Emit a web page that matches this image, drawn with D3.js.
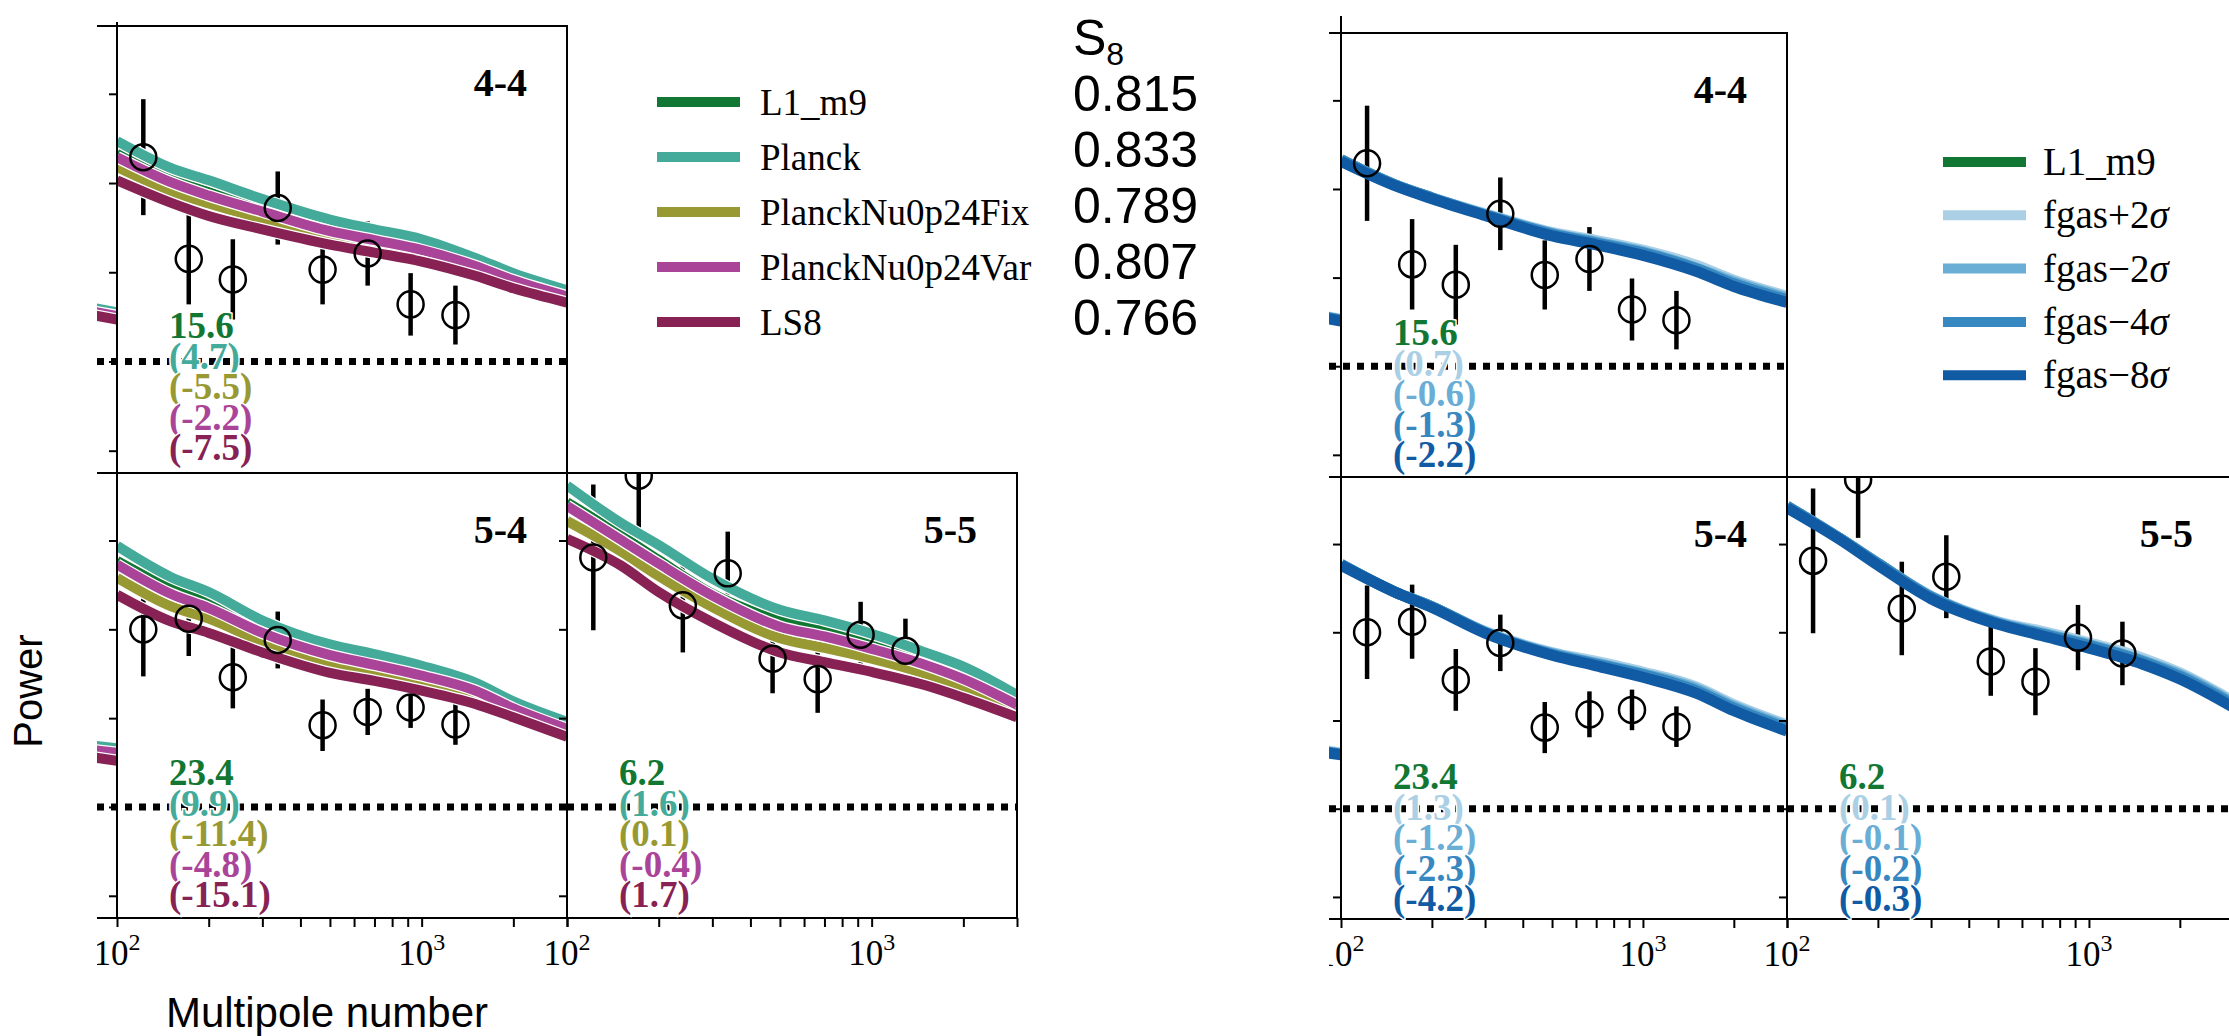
<!DOCTYPE html>
<html>
<head>
<meta charset="utf-8">
<script src="https://cdn.jsdelivr.net/npm/d3@7"></script>
<style>
  body { margin: 0; background: #fff; }
  svg { display: block; }
</style>
</head>
<body>
<svg id="chart"></svg>
<script>
const W = 2229, H = 1036;

// ---------- data ----------
const panelNames = ['4-4', '5-4', '5-5'];
const ellGrid = [100, 150, 200, 300, 500, 700, 1000, 1500, 2000, 3000];
const tailEll = [2500, 3000];
const dataEll = [122, 172, 240, 337, 473, 665, 920, 1291];

// measured band powers (arbitrary units, one row per panel)
const dataPower = [
  [3.29, 2.15, 1.92, 2.72, 2.03, 2.21, 1.64, 1.52],
  [3.00, 3.12, 2.46, 2.88, 1.92, 2.07, 2.12, 1.93],
  [3.81, 4.73, 3.27, 3.63, 2.67, 2.44, 2.94, 2.76],
];
const dataErr = [
  [0.65, 0.51, 0.45, 0.41, 0.39, 0.36, 0.35, 0.33],
  [0.53, 0.42, 0.35, 0.32, 0.29, 0.26, 0.23, 0.23],
  [0.82, 0.66, 0.53, 0.47, 0.39, 0.38, 0.37, 0.36],
];

// model curves on ellGrid, one row per panel
const curveL1 = [
  [3.33, 3.05, 2.90, 2.71, 2.49, 2.39, 2.27, 2.09, 1.92, 1.74],
  [3.77, 3.46, 3.29, 3.00, 2.75, 2.64, 2.51, 2.33, 2.13, 1.90],
  [4.43, 4.06, 3.78, 3.40, 3.10, 2.98, 2.84, 2.66, 2.49, 2.17],
];
const curvePlanck = [
  [3.47, 3.17, 3.03, 2.82, 2.59, 2.48, 2.37, 2.16, 1.99, 1.80],
  [3.94, 3.59, 3.42, 3.10, 2.83, 2.72, 2.59, 2.40, 2.19, 1.96],
  [4.62, 4.20, 3.95, 3.57, 3.22, 3.10, 2.95, 2.74, 2.58, 2.26],
];
const curveFix = [
  [3.18, 2.91, 2.77, 2.60, 2.41, 2.31, 2.21, 2.03, 1.88, 1.71],
  [3.58, 3.26, 3.12, 2.86, 2.62, 2.52, 2.41, 2.24, 2.07, 1.85],
  [4.22, 3.88, 3.60, 3.25, 2.90, 2.79, 2.67, 2.50, 2.35, 2.10],
];
const curveVar = [
  [3.29, 3.01, 2.86, 2.68, 2.46, 2.36, 2.25, 2.07, 1.91, 1.73],
  [3.73, 3.40, 3.24, 2.96, 2.71, 2.60, 2.48, 2.31, 2.11, 1.88],
  [4.39, 4.01, 3.74, 3.38, 3.03, 2.92, 2.78, 2.60, 2.44, 2.15],
];
const curveLS8 = [
  [3.03, 2.78, 2.63, 2.48, 2.31, 2.22, 2.12, 1.96, 1.82, 1.66],
  [3.39, 3.09, 2.96, 2.74, 2.51, 2.42, 2.31, 2.16, 2.01, 1.79],
  [4.02, 3.72, 3.42, 3.08, 2.74, 2.63, 2.52, 2.37, 2.23, 2.01],
];
const curveFgasP2 = [
  [3.33, 3.05, 2.90, 2.72, 2.51, 2.42, 2.31, 2.14, 1.97, 1.79],
  [3.77, 3.46, 3.29, 3.01, 2.77, 2.67, 2.55, 2.38, 2.18, 1.95],
  [4.43, 4.06, 3.78, 3.41, 3.12, 3.01, 2.88, 2.71, 2.54, 2.22],
];
const curveFgasM2 = [
  [3.33, 3.05, 2.90, 2.71, 2.50, 2.40, 2.29, 2.11, 1.95, 1.77],
  [3.77, 3.46, 3.29, 3.00, 2.76, 2.65, 2.53, 2.36, 2.16, 1.93],
  [4.43, 4.06, 3.78, 3.40, 3.11, 2.99, 2.86, 2.68, 2.52, 2.20],
];
const curveFgasM4 = [
  [3.33, 3.05, 2.90, 2.71, 2.49, 2.39, 2.28, 2.10, 1.93, 1.75],
  [3.77, 3.46, 3.29, 3.00, 2.75, 2.64, 2.52, 2.34, 2.14, 1.91],
  [4.43, 4.06, 3.78, 3.40, 3.10, 2.98, 2.85, 2.67, 2.50, 2.18],
];
const curveFgasM8 = [
  [3.31, 3.04, 2.89, 2.70, 2.47, 2.37, 2.25, 2.07, 1.90, 1.72],
  [3.76, 3.46, 3.28, 2.99, 2.74, 2.62, 2.49, 2.31, 2.11, 1.88],
  [4.41, 4.05, 3.76, 3.38, 3.09, 2.96, 2.82, 2.64, 2.47, 2.15],
];

// ends of the curves of the cropped neighbour column (rows 4 and 5)
const tailL1 = [[1.57, 1.52], [1.66, 1.62]];
const tailPlanck = [[1.60, 1.55], [1.69, 1.66]];
const tailFix = [[1.54, 1.49], [1.61, 1.58]];
const tailVar = [[1.56, 1.51], [1.64, 1.61]];
const tailLS8 = [[1.52, 1.47], [1.56, 1.52]];
const tailFgasP2 = [[1.58, 1.53], [1.67, 1.63]];
const tailFgasM2 = [[1.57, 1.52], [1.66, 1.62]];
const tailFgasM4 = [[1.57, 1.52], [1.66, 1.62]];
const tailFgasM8 = [[1.56, 1.51], [1.65, 1.61]];

// chi-square of L1_m9 and differences for the other models
const chiL1 = [15.6, 23.4, 6.2];
const dchiPlanck = [4.7, 9.9, 1.6];
const dchiFix = [-5.5, -11.4, 0.1];
const dchiVar = [-2.2, -4.8, -0.4];
const dchiLS8 = [-7.5, -15.1, 1.7];
const dchiFgasP2 = [0.7, 1.3, 0.1];
const dchiFgasM2 = [-0.6, -1.2, -0.1];
const dchiFgasM4 = [-1.3, -2.3, -0.2];
const dchiFgasM8 = [-2.2, -4.2, -0.3];

const s8Values = [0.815, 0.833, 0.789, 0.807, 0.766];
const xTickValues = [100, 200, 300, 400, 500, 600, 700, 800, 900, 1000, 2000, 3000];
const xLabelValues = [100, 1000];
const yTickValues = [0, 1, 2, 3, 4];

// ---------- layout ----------
const xDomain = [100, 3000];
const yDomain = [-0.25, 4.76];
const panelGrid = [[0, 0], [0, 1], [1, 1]];
const serif = "'Liberation Serif', 'Times New Roman', serif";
const sans = "'Liberation Sans', Arial, sans-serif";

const leftSeries = [
  { name: 'L1_m9', color: '#117733', curve: curveL1, tail: tailL1, dchi: null },
  { name: 'Planck', color: '#44aa99', curve: curvePlanck, tail: tailPlanck, dchi: dchiPlanck },
  { name: 'PlanckNu0p24Fix', color: '#999933', curve: curveFix, tail: tailFix, dchi: dchiFix },
  { name: 'PlanckNu0p24Var', color: '#aa4499', curve: curveVar, tail: tailVar, dchi: dchiVar },
  { name: 'LS8', color: '#882255', curve: curveLS8, tail: tailLS8, dchi: dchiLS8 },
];
const rightSeries = [
  { name: 'L1_m9', color: '#117733', curve: curveL1, tail: tailL1, dchi: null },
  { name: 'fgas+2σ', color: '#abd0e6', curve: curveFgasP2, tail: tailFgasP2, dchi: dchiFgasP2 },
  { name: 'fgas−2σ', color: '#6aaed6', curve: curveFgasM2, tail: tailFgasM2, dchi: dchiFgasM2 },
  { name: 'fgas−4σ', color: '#3787c0', curve: curveFgasM4, tail: tailFgasM4, dchi: dchiFgasM4 },
  { name: 'fgas−8σ', color: '#105ba4', curve: curveFgasM8, tail: tailFgasM8, dchi: dchiFgasM8 },
];

const figLeft = { id: 'L', x0: 117, y0: 26, pw: 450, rowH: [447, 445], cropX: 97, cropY: 0, cropR: 1329, spineTop: 22, halo: true, width: 10 };
const figRight = { id: 'R', x0: 1341, y0: 33, pw: 446, rowH: [444, 442], cropX: 1329, cropY: 16, cropR: W, spineTop: 16, halo: false, width: 11 };

const svg = d3.select('#chart').attr('width', W).attr('height', H);
const defs = svg.append('defs');
svg.append('rect').attr('width', W).attr('height', H).attr('fill', '#fff');

function drawFigure(fig, series) {
  defs.append('clipPath').attr('id', 'crop' + fig.id)
    .append('rect')
    .attr('x', fig.cropX).attr('y', fig.cropY)
    .attr('width', fig.cropR - fig.cropX).attr('height', H - fig.cropY);
  const g = svg.append('g').attr('clip-path', `url(#crop${fig.id})`);

  panelNames.forEach((name, i) => {
    const [c, r] = panelGrid[i];
    const px = fig.x0 + c * fig.pw;
    const py = fig.y0 + (r === 0 ? 0 : fig.rowH[0]);
    const ph = fig.rowH[r];
    const x = d3.scaleLog().domain(xDomain).range([px, px + fig.pw]);
    const y = d3.scaleLinear().domain(yDomain).range([py + ph, py]);

    const clipId = `clip${fig.id}${i}`;
    defs.append('clipPath').attr('id', clipId)
      .append('rect').attr('x', px).attr('y', py).attr('width', fig.pw).attr('height', ph);

    const drawCurves = (target, xs, ells, pick) => {
      const line = d3.line()
        .x((d) => xs(d[0]))
        .y((d) => y(d[1]))
        .curve(d3.curveMonotoneX);
      series.forEach((s) => {
        const pts = ells.map((e, k) => [e, pick(s)[k]]);
        if (fig.halo) {
          target.append('path').attr('d', line(pts)).attr('fill', 'none')
            .attr('stroke', '#fff').attr('stroke-width', fig.width + 2.5);
        }
        target.append('path').attr('d', line(pts)).attr('fill', 'none')
          .attr('stroke', s.color).attr('stroke-width', fig.width);
      });
    };

    // cropped neighbour panel on the left: only its curve ends show
    if (c === 0) {
      const tid = `tail${fig.id}${i}`;
      defs.append('clipPath').attr('id', tid)
        .append('rect').attr('x', px - fig.pw).attr('y', py).attr('width', fig.pw).attr('height', ph);
      const xn = d3.scaleLog().domain(xDomain).range([px - fig.pw, px]);
      drawCurves(g.append('g').attr('clip-path', `url(#${tid})`), xn, tailEll, (s) => s.tail[r]);
    }

    // dotted reference line
    g.append('line')
      .attr('x1', c === 0 ? fig.cropX : px).attr('x2', px + fig.pw)
      .attr('y1', y(1)).attr('y2', y(1))
      .attr('stroke', '#000').attr('stroke-width', 7).attr('stroke-dasharray', '7,7');

    const body = g.append('g').attr('clip-path', `url(#${clipId})`);

    // error bars
    body.selectAll('line.err').data(dataEll).join('line')
      .attr('class', 'err')
      .attr('x1', (d) => x(d)).attr('x2', (d) => x(d))
      .attr('y1', (d, k) => y(dataPower[i][k] - dataErr[i][k]))
      .attr('y2', (d, k) => y(dataPower[i][k] + dataErr[i][k]))
      .attr('stroke', '#000').attr('stroke-width', 4.5);

    // model curves
    drawCurves(body, x, ellGrid, (s) => s.curve[i]);

    // data circles
    body.selectAll('circle').data(dataEll).join('circle')
      .attr('cx', (d) => x(d))
      .attr('cy', (d, k) => y(dataPower[i][k]))
      .attr('r', 13)
      .attr('fill', 'none').attr('stroke', '#000').attr('stroke-width', 2.5);

    // frame
    g.append('rect').attr('x', px).attr('y', py).attr('width', fig.pw).attr('height', ph)
      .attr('fill', 'none').attr('stroke', '#000').attr('stroke-width', 2);
    if (c === 0) {
      g.append('line').attr('x1', fig.cropX).attr('x2', px).attr('y1', py).attr('y2', py)
        .attr('stroke', '#000').attr('stroke-width', 2);
      g.append('line').attr('x1', fig.cropX).attr('x2', px).attr('y1', py + ph).attr('y2', py + ph)
        .attr('stroke', '#000').attr('stroke-width', 2);
      if (r === 0) {
        g.append('line').attr('x1', px).attr('x2', px).attr('y1', fig.spineTop).attr('y2', py)
          .attr('stroke', '#000').attr('stroke-width', 2);
      }
    }

    // y ticks
    const gy = g.append('g').attr('transform', `translate(${px},0)`)
      .call(d3.axisLeft(y).tickValues(yTickValues).tickSize(8).tickFormat(''));
    gy.select('.domain').remove();
    gy.selectAll('.tick line').attr('stroke-width', 2);

    // x ticks on the bottom row
    if (r === 1) {
      const gx = g.append('g').attr('transform', `translate(0,${py + ph})`)
        .call(d3.axisBottom(x).tickValues(xTickValues).tickSize(9).tickFormat(''));
      gx.select('.domain').remove();
      gx.selectAll('.tick line').attr('stroke-width', 2);
      xLabelValues.forEach((v) => {
        const t = g.append('text')
          .attr('x', x(v)).attr('y', py + ph + 47)
          .attr('text-anchor', 'middle')
          .attr('font-family', serif).attr('font-size', 35);
        t.append('tspan').text('10');
        t.append('tspan').attr('dy', -15).attr('font-size', 24).text(Math.round(Math.log10(v)));
      });
    }

    // panel name
    g.append('text')
      .attr('x', px + fig.pw - 40).attr('y', py + 70)
      .attr('text-anchor', 'end')
      .attr('font-family', serif).attr('font-weight', 'bold').attr('font-size', 40)
      .text(name);

    // chi-square block
    const chiLines = series.map((s) => (s.dchi === null
      ? { text: chiL1[i].toFixed(1), color: s.color }
      : { text: '(' + s.dchi[i].toFixed(1) + ')', color: s.color }));
    g.append('g').selectAll('text').data(chiLines).join('text')
      .attr('x', px + 52)
      .attr('y', (d, k) => py + 312 + k * 30.5)
      .attr('font-family', serif).attr('font-weight', 'bold').attr('font-size', 37)
      .attr('fill', (d) => d.color)
      .attr('stroke', '#fff').attr('stroke-width', 3).attr('paint-order', 'stroke')
      .text((d) => d.text);
  });
}

drawFigure(figLeft, leftSeries);
drawFigure(figRight, rightSeries);

// axis labels (left figure)
svg.append('text')
  .attr('transform', 'translate(42,691) rotate(-90)')
  .attr('text-anchor', 'middle')
  .attr('font-family', sans).attr('font-size', 40)
  .text('Power');
svg.append('text')
  .attr('x', 327).attr('y', 1027)
  .attr('text-anchor', 'middle')
  .attr('font-family', sans).attr('font-size', 42)
  .text('Multipole number');

// left legend with S8 column
const legL = svg.append('g');
leftSeries.forEach((s, k) => {
  const ly = 102 + k * 55;
  legL.append('line').attr('x1', 657).attr('x2', 740).attr('y1', ly).attr('y2', ly)
    .attr('stroke', s.color).attr('stroke-width', 10);
  legL.append('text').attr('x', 760).attr('y', ly + 13)
    .attr('font-family', serif).attr('font-size', 37)
    .text(s.name);
});
const s8Title = legL.append('text').attr('x', 1073).attr('y', 55)
  .attr('font-family', sans).attr('font-size', 50);
s8Title.append('tspan').text('S');
s8Title.append('tspan').attr('dy', 10).attr('font-size', 32).text('8');
legL.selectAll('text.s8').data(s8Values).join('text')
  .attr('class', 's8')
  .attr('x', 1073).attr('y', (d, k) => 111 + k * 56)
  .attr('font-family', sans).attr('font-size', 50)
  .text((d) => d.toFixed(3));

// right legend
const legR = svg.append('g');
rightSeries.forEach((s, k) => {
  const ly = 162 + k * 53.3;
  legR.append('line').attr('x1', 1943).attr('x2', 2026).attr('y1', ly).attr('y2', ly)
    .attr('stroke', s.color).attr('stroke-width', 10);
  const t = legR.append('text').attr('x', 2043).attr('y', ly + 13)
    .attr('font-family', serif).attr('font-size', 39);
  const parts = s.name.split('σ');
  t.append('tspan').text(parts[0]);
  if (parts.length > 1) t.append('tspan').attr('font-style', 'italic').text('σ');
});
</script>
</body>
</html>
